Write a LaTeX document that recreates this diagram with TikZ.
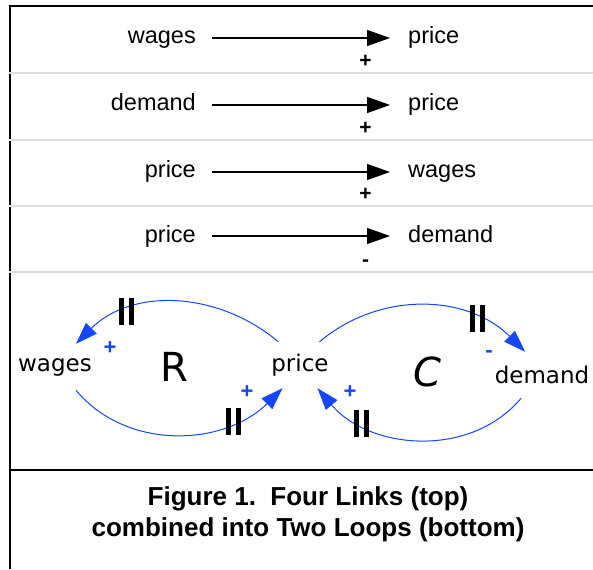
\documentclass[tikz,border=0pt]{standalone}
\usepackage{fontspec}
\setmainfont{Liberation Sans}
\newfontfamily\loopfont{DejaVu Sans}
\usetikzlibrary{arrows.meta}
\definecolor{loopblue}{RGB}{20,70,250}
\definecolor{rulegray}{RGB}{221,221,221}
\newcommand{\delaybars}{\rule{5pt}{27pt}\hspace{5pt}\rule{5pt}{27pt}}

\begin{document}
\begin{tikzpicture}[
  x=1pt, y=1pt,
  linkvar/.style={inner sep=0, font=\fontsize{23.5}{28}\selectfont,
    text height=17pt, text depth=5pt},
  polarity/.style={inner sep=0, font=\fontsize{21}{24}\selectfont\bfseries},
  link/.style={-{Triangle[length=23pt,width=16pt]}, line width=1.3pt,
    shorten <=16pt, shorten >=18pt},
  loopvar/.style={inner sep=0, font=\loopfont\fontsize{23}{27}\selectfont,
    minimum height=46pt},
  loopname/.style={inner sep=0, font=\loopfont\fontsize{40}{44}\selectfont},
  looppolarity/.style={inner sep=0, text=loopblue,
    font=\fontsize{22}{24}\selectfont\bfseries},
  loopline/.style={-{Triangle[length=22pt,width=15pt]}, loopblue, line width=1pt},
  delaymark/.style={inner sep=0, text=black},
  framerule/.style={line width=2.5pt, black},
  separator/.style={line width=2pt, rulegray}
]
\useasboundingbox (0,0) rectangle (593,-569);

\draw[framerule] (10,-569) -- (10,-6) -- (593,-6);
\draw[framerule] (10,-470) -- (593,-470);
\foreach \y in {73,140,206,272}
  \draw[separator] (9,-\y) -- (593,-\y);

% four links
\node[linkvar, anchor=east] (from1) at (196,-38) {wages};
\node[linkvar, anchor=west] (to1) at (408,-38) {price};
\node[linkvar, anchor=east] (from2) at (196,-105) {demand};
\node[linkvar, anchor=west] (to2) at (408,-105) {price};
\node[linkvar, anchor=east] (from3) at (196,-172) {price};
\node[linkvar, anchor=west] (to3) at (408,-172) {wages};
\node[linkvar, anchor=east] (from4) at (196,-236) {price};
\node[linkvar, anchor=west] (to4) at (408,-236) {demand};

\draw[link] (from1) -- node[polarity, pos=.8, yshift=-23pt] {+} (to1);
\draw[link] (from2) -- node[polarity, pos=.8, yshift=-23pt] {+} (to2);
\draw[link] (from3) -- node[polarity, pos=.8, yshift=-22pt] {+} (to3);
\draw[link] (from4) -- node[polarity, pos=.8, yshift=-27pt] {-} (to4);

% two loops
\node[loopvar] (wages) at (55,-367) {wages};
\node[loopvar] (price) at (300,-365) {price};
\node[loopvar] (demand) at (542,-375) {demand};
\node[loopname] (R) at (174,-367) {R};
\node[loopname, font=\loopfont\fontsize{40}{44}\selectfont\itshape] (C) at (427,-372) {C};

\draw[loopline] (price.133) to[out=140, in=45]
  node[delaymark, pos=.73] {\delaybars} (wages.48);
\draw[loopline] (wages.-48) to[out=-50, in=-135]
  node[delaymark, pos=.75] {\delaybars} (price.-127);
\draw[loopline] (price.50) to[out=40, in=135]
  node[delaymark, pos=.75] {\delaybars} (demand.126);
\draw[loopline] (demand.-132) to[out=-130, in=-50]
  node[delaymark, pos=.76] {\delaybars} (price.-53);

\node[looppolarity] (signA) at (110,-348) {+};
\node[looppolarity] (signB) at (247,-392) {+};
\node[looppolarity] (signC) at (489,-354) {-};
\node[looppolarity] (signD) at (350,-392) {+};

\node[font=\fontsize{26}{31}\selectfont\bfseries, align=center] (caption)
  at (308,-514) {Figure 1.\ \ Four Links (top)\\combined into Two Loops (bottom)};

\end{tikzpicture}
\end{document}
